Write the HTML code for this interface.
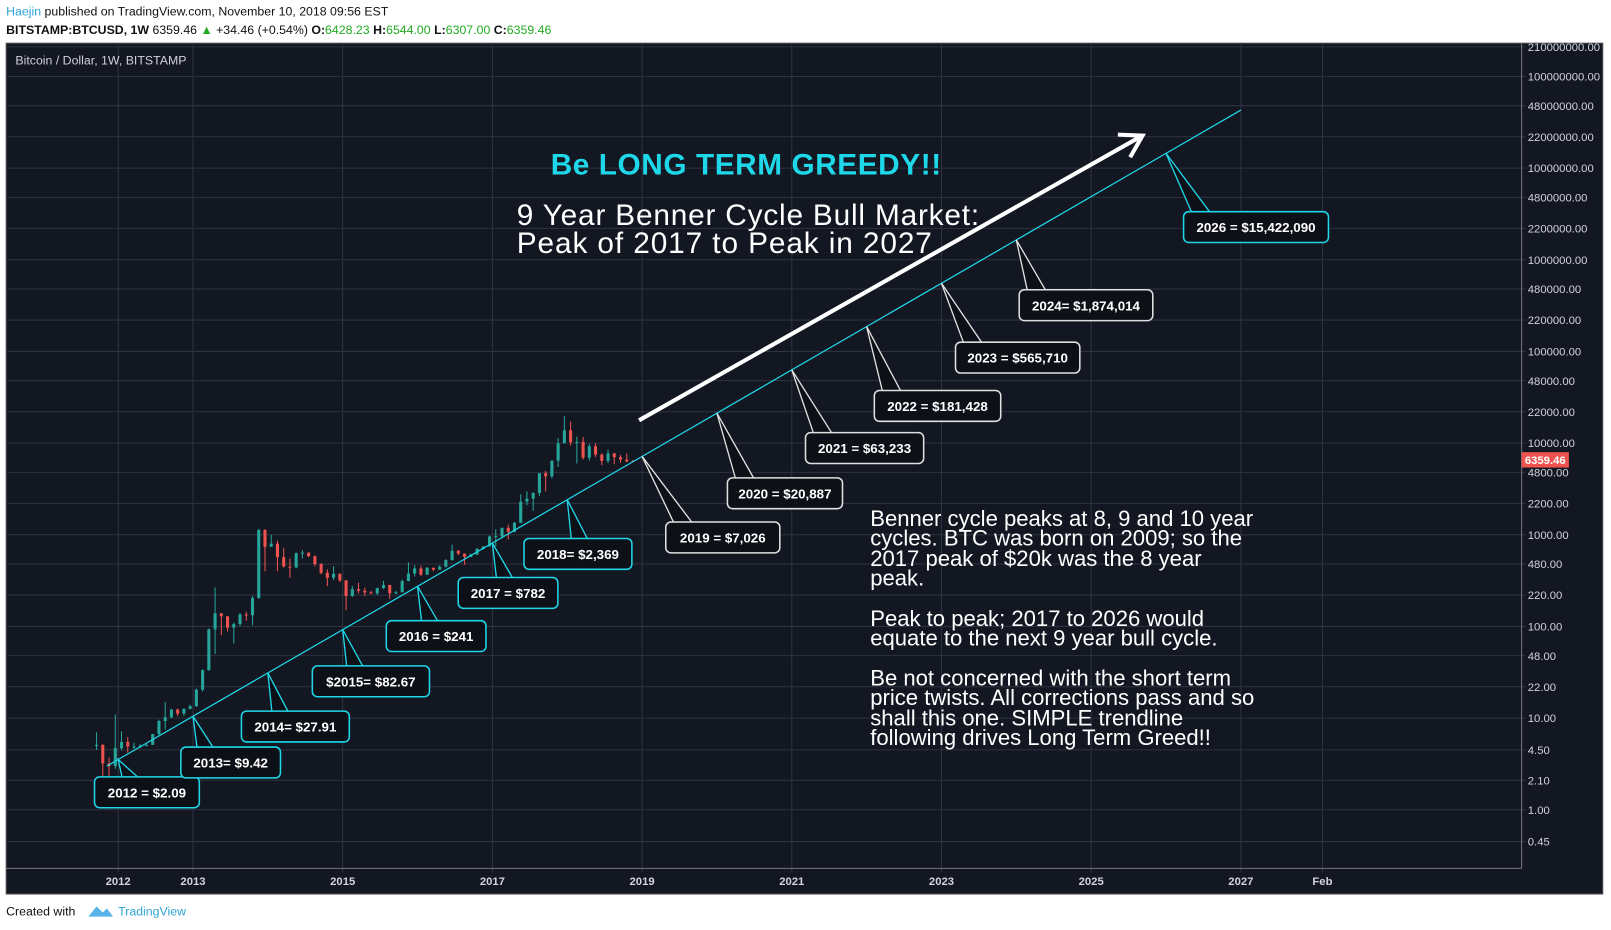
<!DOCTYPE html>
<html><head><meta charset="utf-8"><style>
html,body{margin:0;padding:0;background:#fff;width:1611px;height:930px;overflow:hidden}
svg{display:block}
text{font-family:"Liberation Sans",sans-serif}
</style></head><body>
<svg id="c" width="1611" height="930" viewBox="0 0 1568 905" preserveAspectRatio="none">
<text x="6" y="15" font-size="12"><tspan fill="#2ea3d6">Haejin</tspan><tspan fill="#111"> published on TradingView.com, November 10, 2018 09:56 EST</tspan></text>
<text x="6" y="33" font-size="12" fill="#111"><tspan font-weight="bold">BITSTAMP:BTCUSD, 1W</tspan> 6359.46 <tspan fill="#22aa22">▲</tspan> +34.46 (+0.54%) <tspan font-weight="bold">O:</tspan><tspan fill="#22aa22">6428.23</tspan> <tspan font-weight="bold">H:</tspan><tspan fill="#22aa22">6544.00</tspan> <tspan font-weight="bold">L:</tspan><tspan fill="#22aa22">6307.00</tspan> <tspan font-weight="bold">C:</tspan><tspan fill="#22aa22">6359.46</tspan></text>
<rect x="6" y="42" width="1554" height="828" fill="#131722" stroke="#555" stroke-width="1"/>
<g id="grid"></g>
<line x1="1481" y1="42" x2="1481" y2="845" stroke="#777"/>
<line x1="6" y1="845" x2="1481" y2="845" stroke="#777"/>
<text x="15" y="63" font-size="12" fill="#cfd2d8">Bitcoin / Dollar, 1W, BITSTAMP</text>
<g id="candles"></g>
<g id="trend"></g>
<g id="callouts"></g>
<line x1="622" y1="409" x2="1110" y2="133" stroke="#fff" stroke-width="4"/>
<polyline points="1088,131 1112,132 1100,153" fill="none" stroke="#fff" stroke-width="4"/>
<text x="726" y="170" font-size="29" font-weight="bold" fill="#1ed8ea" text-anchor="middle" textLength="380">Be LONG TERM GREEDY!!</text>
<text x="503" y="219" font-size="29" fill="#fff" textLength="450">9 Year Benner Cycle Bull Market:</text>
<text x="503" y="246" font-size="29" fill="#fff" textLength="404">Peak of 2017 to Peak in 2027</text>
<g font-size="21.5" fill="#fff">
<text x="847" y="512">Benner cycle peaks at 8, 9 and 10 year</text>
<text x="847" y="531">cycles. BTC was born on 2009; so the</text>
<text x="847" y="551">2017 peak of $20k was the 8 year</text>
<text x="847" y="570">peak.</text>
<text x="847" y="609">Peak to peak; 2017 to 2026 would</text>
<text x="847" y="628">equate to the next 9 year bull cycle.</text>
<text x="847" y="667">Be not concerned with the short term</text>
<text x="847" y="686">price twists. All corrections pass and so</text>
<text x="847" y="706">shall this one. SIMPLE trendline</text>
<text x="847" y="725">following drives Long Term Greed!!</text>
</g>
<rect x="1481" y="440" width="46" height="15" fill="#ef5350"/>
<text x="1504" y="451.5" font-size="11" fill="#fff" text-anchor="middle" font-weight="bold">6359.46</text>
<text x="6" y="891" font-size="12" fill="#111">Created with</text>
<path d="M86 892 l8 -10 l6 6 l4 -4 l6 8 z" fill="#58b4e8"/>
<text x="115" y="891" font-size="12" fill="#2ea3d6">TradingView</text>
</svg>
<script>
const yTicks=[210000000,100000000,48000000,22000000,10000000,4800000,2200000,1000000,480000,220000,100000,48000,22000,10000,4800,2200,1000,480,220,100,48,22,10,4.5,2.1,1,0.45];
const xTickYears=[2012,2013,2015,2017,2019,2021,2023,2025,2027,2028.09];
const xTickLabels=["2012","2013","2015","2017","2019","2021","2023","2025","2027","Feb"];
const startYear=2011.67;
const opens=[5,5.1,3.2,3.0,4.7,5.5,4.9,4.9,5.0,5.1,6.7,9.3,10.2,12.4,11.2,12.6,13.5,20.4,33.4,93,139,129,97,106,135,133,204,1130,740,800,570,450,440,630,640,585,480,385,340,375,318,215,255,245,235,230,262,283,230,236,313,377,430,368,436,416,448,530,670,625,575,608,700,745,960,965,1190,1080,1350,2300,2480,2860,4700,4340,6440,9950,13800,10200,10320,6930,9240,7490,6390,7730,7020,6610,6428];
const highs=[7,5.2,3.7,11,7.2,6.2,5.4,5.2,5.2,6.7,9.6,15,12.6,12.7,12.8,14,21,34,95,266,140,129,110,140,145,215,1163,1150,1000,860,720,550,640,680,640,595,490,420,455,380,320,275,300,265,245,265,315,285,245,325,500,465,460,445,440,465,540,780,680,625,620,720,750,980,1150,1200,1290,1380,2760,2980,2920,4480,4980,6450,11400,19660,17170,11780,11650,9760,9990,7750,8500,7750,7400,7680,6544];
const lows=[4.5,2.2,2.0,2.8,4.5,4.2,4.6,4.7,4.9,5.1,6.5,7.5,10,10.5,10.6,12.4,13.2,19.5,33,50,80,88,65,101,115,103,200,400,740,400,440,340,430,550,570,450,370,275,320,305,150,210,230,215,225,220,255,200,225,236,310,350,355,365,400,415,440,520,600,470,570,605,690,740,750,910,890,1060,1350,2100,1830,2650,2970,4140,5500,9950,9400,6000,6600,6420,7060,5750,6070,5880,6100,6200,6307];
const closes=[5.1,3.2,3.0,4.7,5.5,4.9,4.9,5.0,5.1,6.7,9.3,10.2,12.4,11.2,12.6,13.5,20.4,33.4,93,139,129,97,106,135,133,204,1130,740,800,570,450,440,630,640,585,480,385,340,375,318,215,255,245,235,230,262,283,230,236,313,377,430,368,436,416,448,530,670,625,575,608,700,745,960,965,1190,1080,1350,2300,2480,2860,4700,4340,6440,9950,13800,10200,10320,6930,9240,7490,6390,7730,7020,6610,6300,6359];
const trendStart=[2011.85,3.0];
const trendEnd=[2027.0,43000000];
const calloutYears=[2012,2013,2014,2015,2016,2017,2018,2019,2020,2021,2022,2023,2024,2026];
const calloutLabels=["2012 = $2.09","2013= $9.42","2014= $27.91","$2015= $82.67","2016 = $241","2017 = $782","2018= $2,369","2019 = $7,026","2020 = $20,887","2021 = $63,233","2022 = $181,428","2023 = $565,710","2024= $1,874,014","2026 = $15,422,090"];

const NS="http://www.w3.org/2000/svg";
function xS(yr){return 115+(yr-2012)*72.85;}
function yS(v){return 788-89.2*Math.log10(v);}
function mk(tag,attrs,parent){const e=document.createElementNS(NS,tag);for(const k in attrs)e.setAttribute(k,attrs[k]);parent.appendChild(e);return e;}
const grid=document.getElementById('grid');
yTicks.forEach(v=>{
  const y=yS(v);
  const l=mk('line',{x1:6,x2:1485,y1:y,y2:y,stroke:'#2f3340','stroke-width':1},grid);
  
  
  const t=mk('text',{x:1487,y:y+4,'font-size':11,fill:'#d1d4dc'},grid);
  t.textContent=v.toFixed(2);
  
  
});
xTickYears.forEach((yr,i)=>{
  const x=xS(yr);
  const l=mk('line',{x1:x,x2:x,y1:42,y2:849,stroke:'#2f3340','stroke-width':1},grid);
  
  
  const t=mk('text',{x:x,y:861,'font-size':11,fill:'#d1d4dc','text-anchor':'middle','font-weight':'bold'},grid);
  t.textContent=xTickLabels[i];
  
  
});
const cg=document.getElementById('candles');
closes.forEach((c,i)=>{
  const x=xS(startYear+i/12+1/24);
  const up=c>=opens[i];
  const col=up?'#26a69a':'#ef5350';
  const w=mk('line',{x1:x,x2:x,y1:yS(highs[i]),y2:yS(lows[i]),stroke:col,'stroke-width':1},cg);
  
  
  const top=yS(Math.max(c,opens[i])),bot=yS(Math.min(c,opens[i]));
  const b=mk('rect',{x:x-1.5,y:top,width:3,height:Math.max(1,bot-top),fill:col},cg);
  
  
});
const tg=document.getElementById('trend');
const tl=mk('line',{x1:xS(trendStart[0]),y1:yS(trendStart[1]),x2:xS(trendEnd[0]),y2:yS(trendEnd[1]),stroke:'#1ed8ea','stroke-width':1.2},tg);


function trendY(yr){const t=(yr-trendStart[0])/(trendEnd[0]-trendStart[0]);return yS(trendStart[1])+t*(yS(trendEnd[1])-yS(trendStart[1]));}
const boxes=[[92,756,102],[176,727,97],[235,692,105],[304,648,114],[376,604,97],[446,562,97],[510,524,105],[648,508,111],[708,465,112],[784,421,115],[851,380,123],[930,333,121],[992,282,130],[1152,206,141]];
const og=document.getElementById('callouts');
calloutYears.forEach((yr,i)=>{
  const tx=xS(yr), ty=trendY(yr);
  const [bx,by,bw]=boxes[i];
  const cyan=(i<7||i===13);
  const col=cyan?'#1ed8ea':'#e0e0e0';
  const p=mk('polygon',{points:`${tx},${ty} ${Math.max(bx+8,tx+4)},${by+1} ${Math.max(bx+26,tx+20)},${by+1}`,fill:'#0e1017',stroke:col,'stroke-width':1.3},og);
  
  
  const r=mk('rect',{x:bx,y:by,width:bw,height:30,rx:5,fill:'#0e1017',stroke:col,'stroke-width':1.5},og);
  
  
  const cover=mk('polygon',{points:`${Math.max(bx+9,tx+5)},${by+1.5} ${Math.max(bx+25,tx+19)},${by+1.5} ${Math.max(bx+25,tx+19)},${by+3} ${Math.max(bx+9,tx+5)},${by+3}`,fill:'#0e1017'},og);
  
  
  const t=mk('text',{x:bx+bw/2,y:by+20,'font-size':13,fill:'#fff','text-anchor':'middle','font-weight':'bold'},og);
  t.textContent=calloutLabels[i];
  
  
});
</script>
</body></html>
